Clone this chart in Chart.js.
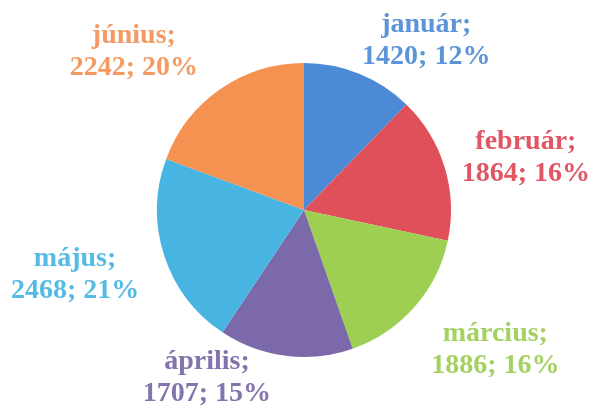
<!DOCTYPE html>
<html lang="hu">
  <head>
    <meta charset="UTF-8" />
    <title>Havi megoszlás</title>
    <script src="https://cdn.jsdelivr.net/npm/chart.js@4"></script>
    <style>
      html, body { margin: 0; padding: 0; background: #fff; }
      #wrap { width: 598px; height: 405px; position: relative; }
    </style>
  </head>
  <body>
    <div id="wrap"><canvas id="myChart"></canvas></div>
    <script>
      // adatok a képről
      const months = ["január", "február", "március", "április", "május", "június"];
      const values = [1420, 1864, 1886, 1707, 2468, 2242];
      const percents = [12, 16, 16, 15, 21, 20];
      const sliceColors = ["#4c8ad6", "#e0505b", "#9dcf52", "#7c69aa", "#47b4e2", "#f59251"];
      const labelColors = ["#5b95d8", "#e05664", "#a3d162", "#8474ae", "#55bbe4", "#f49a62"];

      // feliratok a szeletek mellé (kb. az Excel "legjobb illeszkedés" helyei)
      const outsideLabels = {
        id: "outsideLabels",
        afterDatasetsDraw(chart) {
          const ctx = chart.ctx;
          const meta = chart.getDatasetMeta(0);
          const W = chart.width, H = chart.height;
          const lineH = 32;
          // kis igazítás szeletenként, hogy az Excel elrendezéséhez közelebb legyen
          const nudge = [[-5, 7], [-3, 4], [1, -5], [-12, 3], [-5, 1], [-10, 10]];
          ctx.save();
          ctx.font = "bold 28px 'Liberation Serif', 'Times New Roman', serif";
          ctx.textAlign = "center";
          ctx.textBaseline = "alphabetic";
          meta.data.forEach((arc, i) => {
            const p = arc.getProps(["x", "y", "startAngle", "endAngle", "outerRadius"], true);
            const mid = (p.startAngle + p.endAngle) / 2;
            const dx = Math.cos(mid), dy = Math.sin(mid);
            const r = p.outerRadius + 21;
            const ax = p.x + dx * r, ay = p.y + dy * r;
            const l1 = months[i] + ";";
            const l2 = values[i] + "; " + percents[i] + "%";
            const w = Math.max(ctx.measureText(l1).width, ctx.measureText(l2).width);
            const h = lineH * 2;
            const sx = Math.sign(dx);
            const sy = Math.abs(dy) > 0.5 ? Math.sign(dy) : dy;
            let cx = ax + sx * w / 2;
            let cy = ay + sy * h / 2;
            cx = Math.min(Math.max(cx, w / 2 + 2), W - w / 2 - 2);
            cy = Math.min(Math.max(cy, h / 2), H - h / 2);
            cx += nudge[i][0];
            cy += nudge[i][1];
            ctx.fillStyle = labelColors[i];
            ctx.fillText(l1, cx, cy - 7);
            ctx.fillText(l2, cx, cy - 7 + lineH);
          });
          ctx.restore();
        }
      };

      const ctx = document.getElementById("myChart");
      new Chart(ctx, {
        type: "pie",
        data: {
          labels: months,
          datasets: [
            {
              data: values,
              backgroundColor: sliceColors,
              borderWidth: 0
            }
          ]
        },
        options: {
          responsive: true,
          maintainAspectRatio: false,
          animation: false,
          layout: {
            padding: { top: 63, bottom: 48, left: 157, right: 147 }
          },
          plugins: {
            legend: { display: false },
            tooltip: { enabled: false }
          }
        },
        plugins: [outsideLabels]
      });
    </script>
  </body>
</html>
